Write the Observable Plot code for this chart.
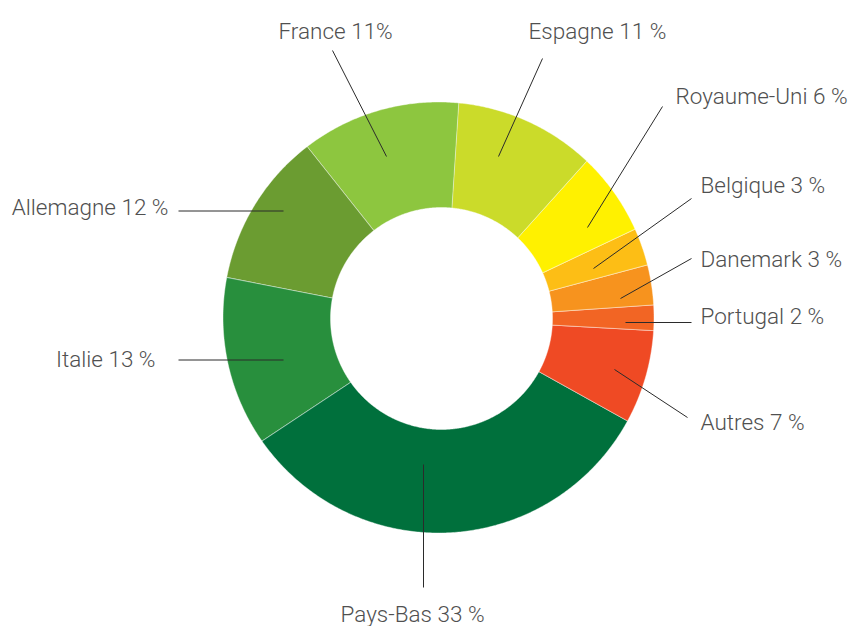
<!DOCTYPE html>
<html>
<head>
<meta charset="utf-8">
<script src="https://cdn.jsdelivr.net/npm/d3@7"></script>
<script src="https://cdn.jsdelivr.net/npm/@observablehq/plot@0.6"></script>
<style>
  html, body { margin: 0; padding: 0; background: #fff; }
  #chart svg { display: block; }
</style>
</head>
<body>
<div id="chart"></div>
<script>
// ---- data (clockwise from the top) ----
const countries = ["Espagne", "Royaume-Uni", "Belgique", "Danemark", "Portugal", "Autres", "Pays-Bas", "Italie", "Allemagne", "France"];
const shares    = [10.6, 6.2, 2.8, 3.0, 1.9, 7.0, 32.3, 12.7, 11.6, 11.9];
const labels    = ["Espagne 11 %", "Royaume-Uni 6 %", "Belgique 3 %", "Danemark 3 %", "Portugal 2 %", "Autres 7 %", "Pays-Bas 33 %", "Italie 13 %", "Allemagne 12 %", "France 11%"];

// ---- styles ----
const colors = ["#cbdb2a", "#fff100", "#fdbe15", "#f7931e", "#f26524", "#ef4a24", "#00703c", "#288f3d", "#6b9c31", "#8dc63f"];

// ---- layout (pixels) ----
const W = 849, H = 626;
const cx = 438, cy = 317, rOuter = 215.5;
const icx = 441, icy = 318, rInner = 111;
const startDeg = 5.4;
// label anchor positions and leader-line endpoints
const labelLayout = [
  {tx: 528, ty: 31,  anchor: "start",  x1: 498, y1: 156, x2: 542, y2: 58},
  {tx: 675, ty: 96,  anchor: "start",  x1: 587, y1: 227, x2: 662, y2: 106},
  {tx: 700, ty: 185, anchor: "start",  x1: 593, y1: 268, x2: 691, y2: 198},
  {tx: 700, ty: 259, anchor: "start",  x1: 620, y1: 298, x2: 691, y2: 258},
  {tx: 700, ty: 316, anchor: "start",  x1: 625, y1: 322, x2: 691, y2: 322},
  {tx: 700, ty: 422, anchor: "start",  x1: 614, y1: 369, x2: 687, y2: 417},
  {tx: 412, ty: 614, anchor: "middle", x1: 423, y1: 464, x2: 423, y2: 587},
  {tx: 155, ty: 359, anchor: "end",    x1: 283, y1: 359.5, x2: 178, y2: 359.5},
  {tx: 168, ty: 207.5, anchor: "end",  x1: 283, y1: 210.5, x2: 178, y2: 210.5},
  {tx: 278, ty: 31,  anchor: "start",  x1: 386, y1: 156, x2: 332, y2: 50}
];

// ---- build slices from the shares ----
const total = d3.sum(shares);
const rad = d => d * Math.PI / 180;
let acc = startDeg;
const features = countries.map((name, i) => {
  const a0 = acc, a1 = acc + shares[i] / total * 360;
  acc = a1;
  const n = Math.max(4, Math.ceil((a1 - a0) / 0.5));
  const outer = d3.range(n + 1).map(k => {
    const a = rad(a0 + (a1 - a0) * k / n);
    return [cx + rOuter * Math.sin(a), cy - rOuter * Math.cos(a)];
  });
  const inner = d3.range(n + 1).map(k => {
    const a = rad(a1 - (a1 - a0) * k / n);
    return [icx + rInner * Math.sin(a), icy - rInner * Math.cos(a)];
  });
  const ring = outer.concat(inner);
  ring.push(ring[0]);
  return {type: "Feature", properties: {name, i}, geometry: {type: "Polygon", coordinates: [ring]}};
});

const rows = countries.map((c, i) => ({country: c, label: labels[i], ...labelLayout[i]}));

const frameDomain = {type: "Polygon", coordinates: [[[0, 0], [W, 0], [W, H], [0, H], [0, 0]]]};

const font = "Roboto, 'Liberation Sans', sans-serif";
const textOpts = (anchor) => ({
  x: "tx", y: "ty", text: "label", textAnchor: anchor,
  fontSize: 22.5, fontWeight: 300, fill: "#505050", fontFamily: font
});

const chart = Plot.plot({
  width: W,
  height: H,
  margin: 0,
  projection: {type: "identity", domain: frameDomain},
  style: {fontFamily: font, background: "#fff", overflow: "visible"},
  marks: [
    Plot.geo(features, {fill: d => colors[d.properties.i], stroke: "#ffffff", strokeWidth: 0.6, strokeOpacity: 0.7}),
    Plot.link(rows, {x1: "x1", y1: "y1", x2: "x2", y2: "y2", stroke: "#2b2b2b", strokeWidth: 1}),
    Plot.text(rows.filter(d => d.anchor === "start"), textOpts("start")),
    Plot.text(rows.filter(d => d.anchor === "end"), textOpts("end")),
    Plot.text(rows.filter(d => d.anchor === "middle"), textOpts("middle"))
  ]
});
document.getElementById("chart").appendChild(chart);
</script>
</body>
</html>
